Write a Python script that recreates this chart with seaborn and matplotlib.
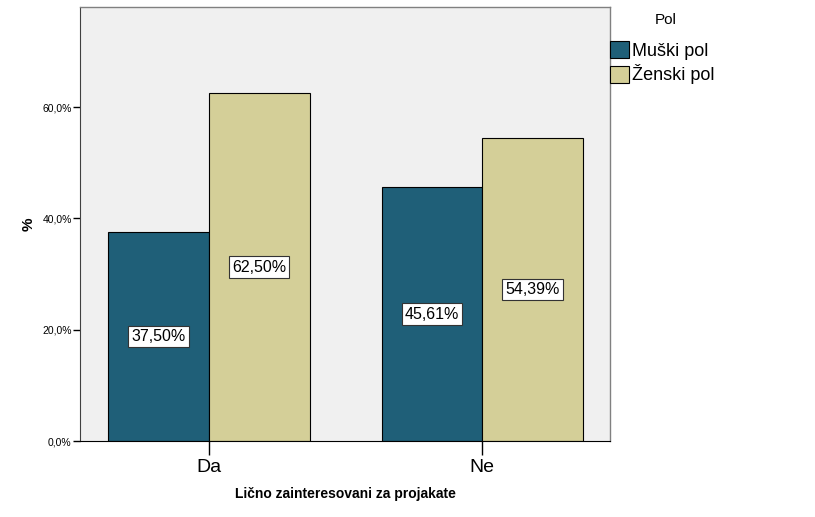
import pandas as pd
import matplotlib
matplotlib.use("Agg")
import matplotlib.pyplot as plt
import seaborn as sns
from matplotlib.patches import Patch

# --------------------------------------------------
# Data
# --------------------------------------------------
categories = ["Da", "Ne"]
genders = ["Muški pol", "Ženski pol"]
muski = [37.50, 45.61]
zenski = [62.50, 54.39]
y_ticks = [0, 20, 40, 60]
y_tick_labels = ["0,0%", "20,0%", "40,0%", "60,0%"]

df = pd.DataFrame({
    "kategorija": categories * 2,
    "pol": [genders[0]] * 2 + [genders[1]] * 2,
    "procenat": muski + zenski,
})

colors = {"Muški pol": "#1f5f78", "Ženski pol": "#d4cf98"}

# --------------------------------------------------
# Plot
# --------------------------------------------------
sns.set_style("white")
plt.rcParams["font.family"] = ["Liberation Sans", "DejaVu Sans"]
plt.rcParams["text.color"] = "black"
plt.rcParams["axes.labelcolor"] = "black"
plt.rcParams["xtick.color"] = "black"
plt.rcParams["ytick.color"] = "black"

fig = plt.figure(figsize=(8.15, 5.17), dpi=100)
ax = fig.add_axes([0.0982, 0.147, 0.6503, 0.8395])
ax.set_facecolor("#f0f0f0")

sns.barplot(data=df, x="kategorija", y="procenat", hue="pol",
            order=categories, hue_order=genders, palette=colors,
            width=0.737, gap=0, edgecolor="black", linewidth=0.8,
            saturation=1, legend=False, ax=ax)

ax.set_xlim(-0.471, 1.467)
ax.set_ylim(0, 78)
ax.set_yticks(y_ticks)
ax.set_yticklabels(y_tick_labels, fontsize=7.5)
ax.set_xticks(range(len(categories)))
ax.set_xticklabels(categories, fontsize=14)
ax.tick_params(axis="x", direction="out", length=10, width=1, color="black", pad=3, bottom=True)
ax.tick_params(axis="y", direction="out", length=5, width=1, color="black", pad=1, left=True)

for side in ["top", "right"]:
    ax.spines[side].set_color("#808080")
    ax.spines[side].set_linewidth(1)
ax.spines["left"].set_color("#404040")
ax.spines["bottom"].set_color("black")

ax.set_xlabel("Lično zainteresovani za projakate", fontsize=10, fontweight="bold", labelpad=8)
ax.set_ylabel("%", fontsize=11, fontweight="bold", labelpad=5)

# value labels at middle of each bar
for cont in ax.containers:
    for bar in cont:
        h = bar.get_height()
        ax.text(bar.get_x() + bar.get_width() / 2, h / 2,
                f"{h:.2f}%".replace(".", ","), ha="center", va="center", fontsize=11.5,
                bbox=dict(boxstyle="square,pad=0.2", fc="white", ec="#333333", lw=0.8))

# legend
fig.text(666 / 815, 1 - 20 / 517, "Pol", ha="center", va="center", fontsize=11)
handles = [Patch(facecolor=colors[g], edgecolor="black", linewidth=0.8, label=g) for g in genders]
fig.legend(handles=handles, loc="upper left",
           bbox_to_anchor=(0.748, 1 - 41 / 517), frameon=False, fontsize=13,
           handlelength=1.1, handleheight=1.1,
           handletextpad=0.15, labelspacing=0.25, borderaxespad=0, borderpad=0)

fig.savefig("out.png", dpi=100)
